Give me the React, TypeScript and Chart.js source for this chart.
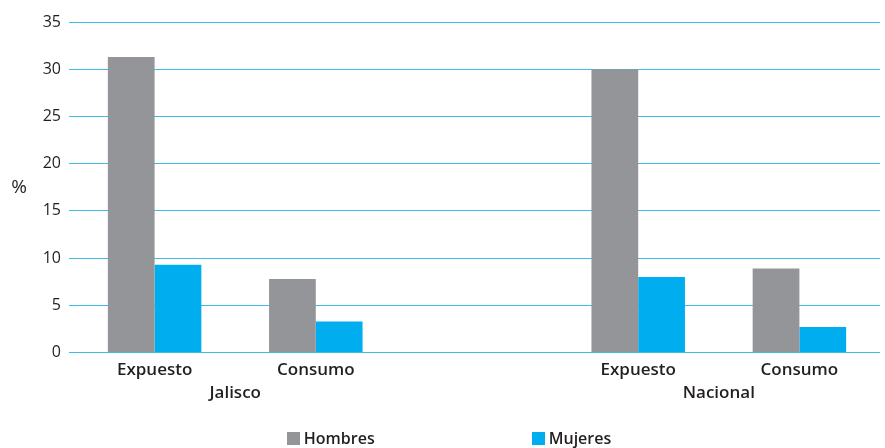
import React, { useEffect, useRef } from "react";
import { Chart, registerables } from "chart.js";

Chart.register(...registerables);

const categories = ["Expuesto", "Consumo", "", "Expuesto", "Consumo"];
const groupLabels = ["Jalisco", "Nacional"];
const groupPositions = [0.5, 3.5];
const hombres: (number | null)[] = [31.3, 7.8, null, 30.0, 8.9];
const mujeres: (number | null)[] = [9.3, 3.3, null, 8.0, 2.7];
const seriesNames = ["Hombres", "Mujeres"];
const seriesColors = ["#939598", "#00aeef"];
const yMin = 0;
const yMax = 35;
const yStep = 5;
const yTitle = "%";

const FONT = '"Open Sans", sans-serif';
const TEXT = "#231f20";
const GRID = "#3dbbea";

const percentPlugin = {
  id: "percentTitle",
  afterDraw(chart: any) {
    const { ctx, chartArea } = chart;
    ctx.save();
    ctx.font = `19px ${FONT}`;
    ctx.fillStyle = TEXT;
    ctx.textAlign = "center";
    ctx.textBaseline = "middle";
    ctx.fillText(yTitle, 19, (chartArea.top + chartArea.bottom) / 2);
    ctx.restore();
  },
};

export default function App() {
  const ref = useRef<HTMLCanvasElement | null>(null);

  useEffect(() => {
    document.body.style.margin = "0";
    if (!ref.current) return;
    const chart = new Chart(ref.current, {
      type: "bar",
      data: {
        labels: categories,
        datasets: [
          {
            label: seriesNames[0],
            data: hombres,
            backgroundColor: seriesColors[0],
            categoryPercentage: 0.58,
            barPercentage: 1.0,
            xAxisID: "x",
          },
          {
            label: seriesNames[1],
            data: mujeres,
            backgroundColor: seriesColors[1],
            categoryPercentage: 0.58,
            barPercentage: 1.0,
            xAxisID: "x",
          },
        ],
      },
      options: {
        animation: false,
        responsive: false,
        maintainAspectRatio: false,
        layout: { padding: { top: 22, right: 5, bottom: 0, left: 0 } },
        plugins: {
          legend: { display: false },
          tooltip: { enabled: false },
        },
        scales: {
          y: {
            min: yMin,
            max: yMax,
            ticks: {
              stepSize: yStep,
              padding: 8,
              color: TEXT,
              font: { family: FONT, size: 16 },
            },
            grid: { color: GRID, lineWidth: 1, tickLength: 5, drawTicks: true },
            border: { display: false },
            afterFit(scale: any) {
              scale.width = 74;
            },
          },
          x: {
            type: "category",
            position: "bottom",
            grid: { display: false },
            border: { display: false },
            ticks: {
              padding: -1,
              color: TEXT,
              font: { family: FONT, size: 17, weight: "600" },
              maxRotation: 0,
              autoSkip: false,
            },
          },
          x2: {
            type: "linear",
            position: "bottom",
            offset: false,
            min: -0.5,
            max: categories.length - 0.5,
            grid: { display: false },
            border: { display: false },
            afterBuildTicks(scale: any) {
              scale.ticks = groupPositions.map((v) => ({ value: v }));
            },
            ticks: {
              padding: -4,
              color: TEXT,
              font: { family: FONT, size: 17, weight: "600" },
              maxRotation: 0,
              autoSkip: false,
              callback(value: any) {
                const i = groupPositions.indexOf(Number(value));
                return i >= 0 ? groupLabels[i] : "";
              },
            },
            afterFit(scale: any) {
              scale.height = 69;
            },
          },
        },
      },
      plugins: [percentPlugin],
    });
    return () => chart.destroy();
  }, []);

  return (
    <div style={{ position: "relative", width: 885, height: 448, fontFamily: FONT }}>
      <canvas ref={ref} width={885} height={448} style={{ display: "block" }} />
      <div
        style={{
          position: "absolute",
          left: 0,
          top: 428,
          width: 885,
          boxSizing: "border-box",
          paddingLeft: 13,
          display: "flex",
          justifyContent: "center",
          gap: 157,
          color: TEXT,
          fontSize: 16,
          fontWeight: 600,
          lineHeight: "20px",
        }}
      >
        {seriesNames.map((name, i) => (
          <div key={name} style={{ display: "flex", alignItems: "center" }}>
            <span
              style={{
                display: "inline-block",
                width: 13,
                height: 13,
                background: seriesColors[i],
                marginRight: 4,
              }}
            />
            <span>{name}</span>
          </div>
        ))}
      </div>
    </div>
  );
}
